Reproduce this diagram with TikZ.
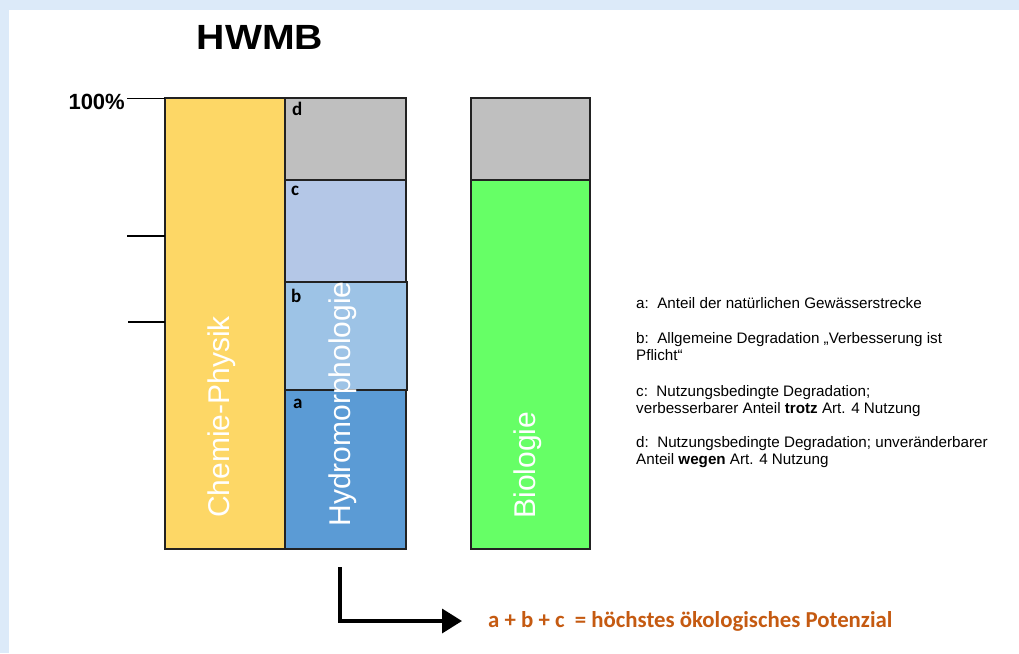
\documentclass[tikz,border=0pt]{standalone}
\usepackage{fontspec}
\setmainfont{Liberation Sans}
\newfontfamily\calib{Carlito}
\usetikzlibrary{arrows.meta}
\definecolor{framebg}{HTML}{DCEAF9}
\definecolor{cpyellow}{HTML}{FDD766}
\definecolor{segd}{HTML}{BFBFBF}
\definecolor{segc}{HTML}{B4C7E7}
\definecolor{segb}{HTML}{9DC3E6}
\definecolor{sega}{HTML}{5B9BD5}
\definecolor{biogreen}{HTML}{66FF66}
\definecolor{resorange}{HTML}{C55A11}
\definecolor{edge}{HTML}{222222}
\begin{document}
\begin{tikzpicture}[x=1pt,y=-1pt,
  barbox/.style={draw=edge, line width=1.6pt, anchor=north west, inner sep=0pt, outer sep=0pt},
  bartext/.style={rotate=90, text=white, font=\fontsize{30}{30}\selectfont, inner sep=0pt},
  seglabel/.style={anchor=north west, font=\calib\bfseries\fontsize{19}{19}\selectfont, inner sep=0pt},
  legend/.style={anchor=north west, align=left, inner sep=0pt, font=\fontsize{15.2}{17}\selectfont},
  tick/.style={line width=1.5pt, draw=black}]
\useasboundingbox (0,0) rectangle (1019,653);
\fill[framebg] (0,0) rectangle (1019,653);
\fill[white] (9,10) rectangle (1019,653);

% title
\node[font=\bfseries\fontsize{35}{35}\selectfont, inner sep=0pt, xscale=1.12] (title) at (260,37) {HWMB};
\node[font=\bfseries\fontsize{22}{22}\selectfont, inner sep=0pt, anchor=east] (pct) at (125,102) {100\%};

% bars
\node[barbox, fill=cpyellow, minimum width=120pt, minimum height=451pt] (chem) at (165,98) {};
\node[barbox, fill=segd, minimum width=121pt, minimum height=82pt] (d) at (285,98) {};
\node[barbox, fill=segc, minimum width=121pt, minimum height=102pt] (c) at (285,180) {};
\node[barbox, fill=segb, minimum width=122pt, minimum height=108pt] (b) at (285,282) {};
\node[barbox, fill=sega, minimum width=121pt, minimum height=159pt] (a) at (285,390) {};
\node[barbox, fill=segd, minimum width=119pt, minimum height=82pt] (biotop) at (471,98) {};
\node[barbox, fill=biogreen, minimum width=119pt, minimum height=369pt] (bio) at (471,180) {};

% ticks
\coordinate (t1) at (127,98.5);
\coordinate (t2) at (127,236);
\coordinate (t3) at (128,322);
\draw[tick] (t1) -- (t1 -| chem.west);
\draw[tick] (t2) -- (t2 -| chem.west);
\draw[tick] (t3) -- (t3 -| chem.west);

% rotated labels
\node[bartext] (chemt) at (222,417) {Chemie-Physik};
\node[bartext] (hydrot) at (343,404) {Hydromorphologie};
\node[bartext] (biot) at (528,465) {Biologie};

% segment letters
\node[seglabel] (ld) at (292,102) {d};
\node[seglabel] (lc) at (291,186) {c};
\node[seglabel] (lb) at (291,289) {b};
\node[seglabel] (la) at (293,399) {a};

% legend
\node[legend] (lega) at (636,297) {a:\ \ Anteil der natürlichen Gewässerstrecke};
\node[legend] (legb) at (636,332) {b:\ \ Allgemeine Degradation „Verbesserung ist\\Pflicht“};
\node[legend] (legc) at (636,385) {c:\ \ Nutzungsbedingte Degradation;\\verbesserbarer Anteil \textbf{trotz} Art. 4 Nutzung};
\node[legend] (legd) at (636,436) {d:\ \ Nutzungsbedingte Degradation; unveränderbarer\\Anteil \textbf{wegen} Art. 4 Nutzung};

% result
\node[anchor=west, inner sep=0pt, text=resorange, font=\calib\bfseries\fontsize{22.8}{22.8}\selectfont] (res) at (488,621) {a + b + c\ \ = höchstes ökologisches Potenzial};
\coordinate (arrstart) at (340,567);
\draw[line width=3.5pt, -{Triangle[length=20pt,width=24pt]}, shorten >=26pt] (arrstart) |- (res.west);
\end{tikzpicture}
\end{document}
